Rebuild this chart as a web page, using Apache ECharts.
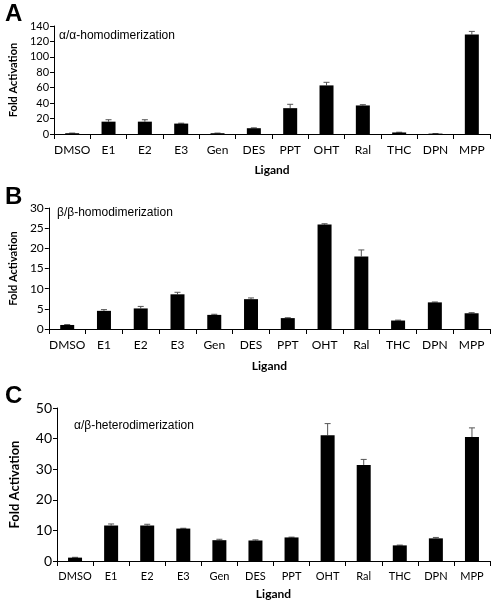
<!DOCTYPE html>
<html>
<head>
<meta charset="utf-8">
<script src="https://cdn.jsdelivr.net/npm/echarts@6/dist/echarts.min.js"></script>
<style>
html,body{margin:0;padding:0;background:#fff;}
#chart{width:492px;height:601px;}
</style>
</head>
<body>
<div id="chart"></div>
<script>
const categories = ['DMSO','E1','E2','E3','Gen','DES','PPT','OHT','Ral','THC','DPN','MPP'];
const aaValues = [1, 16, 16, 13.5, 1, 7.5, 33.5, 63, 37, 2, 0.5, 129];
const aaErrors = [0.2, 2.5, 2.5, 0.5, 0.2, 0.5, 5, 4, 1, 0.3, 0.1, 4];
const bbValues = [1, 4.5, 5.1, 8.6, 3.5, 7.4, 2.7, 25.9, 18, 2.1, 6.6, 3.9];
const bbErrors = [0.1, 0.3, 0.5, 0.5, 0.15, 0.3, 0.1, 0.2, 1.6, 0.1, 0.1, 0.15];
const abValues = [1.1, 11.6, 11.6, 10.6, 6.8, 6.7, 7.7, 41.1, 31.4, 5.1, 7.4, 40.5];
const abErrors = [0.1, 0.5, 0.4, 0.1, 0.3, 0.2, 0.1, 3.8, 1.8, 0.1, 0.3, 3.0];
const yTicksA = {min: 0, max: 140, interval: 20};
const yTicksB = {min: 0, max: 30, interval: 5};
const yTicksC = {min: 0, max: 50, interval: 10};

const chart = echarts.init(document.getElementById('chart'));
const tickFont = 'Lato, "Open Sans", sans-serif';

function xAxis(idx, labelSize, nameGap) {
  return {
    type: 'category', gridIndex: idx, data: categories,
    axisLine: {lineStyle: {color: '#000', width: 1}},
    axisTick: {show: true, alignWithLabel: false, interval: 0, length: 5, lineStyle: {color: '#000'}},
    axisLabel: {color: '#000', fontFamily: tickFont, fontSize: labelSize, margin: 10, interval: 0},
    name: 'Ligand', nameLocation: 'middle', nameGap: nameGap,
    nameTextStyle: {fontFamily: tickFont, fontWeight: 'bold', fontSize: 12, color: '#000'}
  };
}
function yAxis(idx, t, labelSize, nameSize, nameGap) {
  return {
    type: 'value', gridIndex: idx, min: t.min, max: t.max, interval: t.interval,
    axisLine: {show: true, lineStyle: {color: '#000', width: 1}},
    axisTick: {show: true, length: 4, lineStyle: {color: '#000'}},
    splitLine: {show: false},
    axisLabel: {color: '#000', fontFamily: tickFont, fontSize: labelSize, margin: 5},
    name: 'Fold Activation', nameLocation: 'middle', nameGap: nameGap,
    nameTextStyle: {fontFamily: tickFont, fontWeight: 'bold', fontSize: nameSize, color: '#000'}
  };
}
function bars(idx, vals) {
  return {
    type: 'bar', xAxisIndex: idx, yAxisIndex: idx, data: vals, barWidth: 14,
    itemStyle: {color: '#000'}, silent: true
  };
}
function errs(idx, vals, errsArr) {
  return {
    type: 'custom', xAxisIndex: idx, yAxisIndex: idx, silent: true, z: 1,
    data: vals.map((v, i) => [i, v, v + errsArr[i]]),
    renderItem: function (params, api) {
      const base = api.coord([api.value(0), api.value(1)]);
      const top = api.coord([api.value(0), api.value(2)]);
      const cw = 3;
      return {
        type: 'group',
        children: [
          {type: 'line', shape: {x1: base[0], y1: base[1], x2: top[0], y2: top[1]}, style: {stroke: '#555', lineWidth: 1}},
          {type: 'line', shape: {x1: top[0] - cw, y1: top[1], x2: top[0] + cw, y2: top[1]}, style: {stroke: '#555', lineWidth: 1}}
        ]
      };
    }
  };
}

const option = {
  animation: false,
  backgroundColor: '#fff',
  title: [
    {text: 'A', left: 0, top: -3, textStyle: {fontSize: 24, fontWeight: 'bold', fontFamily: 'Liberation Sans, Arial', color: '#000'}},
    {text: 'B', left: 0, top: 180, textStyle: {fontSize: 24, fontWeight: 'bold', fontFamily: 'Liberation Sans, Arial', color: '#000'}},
    {text: 'C', left: 0, top: 379, textStyle: {fontSize: 24, fontWeight: 'bold', fontFamily: 'Liberation Sans, Arial', color: '#000'}},
    {text: 'α/α-homodimerization', left: 54, top: 25, textStyle: {fontSize: 12, fontWeight: 'normal', fontFamily: 'Liberation Sans, Arial', color: '#000'}},
    {text: 'β/β-homodimerization', left: 52, top: 202, textStyle: {fontSize: 12, fontWeight: 'normal', fontFamily: 'Liberation Sans, Arial', color: '#000'}},
    {text: 'α/β-heterodimerization', left: 69, top: 415, textStyle: {fontSize: 12, fontWeight: 'normal', fontFamily: 'Liberation Sans, Arial', color: '#000'}}
  ],
  grid: [
    {left: 44, right: 2, top: 26, height: 108},
    {left: 37, right: 2, top: 208, height: 121},
    {left: 48, right: 2, top: 408, height: 154}
  ],
  xAxis: [xAxis(0, 12, 30), xAxis(1, 12, 31), xAxis(2, 11, 27)],
  yAxis: [yAxis(0, yTicksA, 11, 11, 32), yAxis(1, yTicksB, 12, 11, 27), yAxis(2, yTicksC, 14, 13, 36)],
  series: [
    errs(0, aaValues, aaErrors), bars(0, aaValues),
    errs(1, bbValues, bbErrors), bars(1, bbValues),
    errs(2, abValues, abErrors), bars(2, abValues)
  ]
};
chart.setOption(option);
</script>
</body>
</html>
